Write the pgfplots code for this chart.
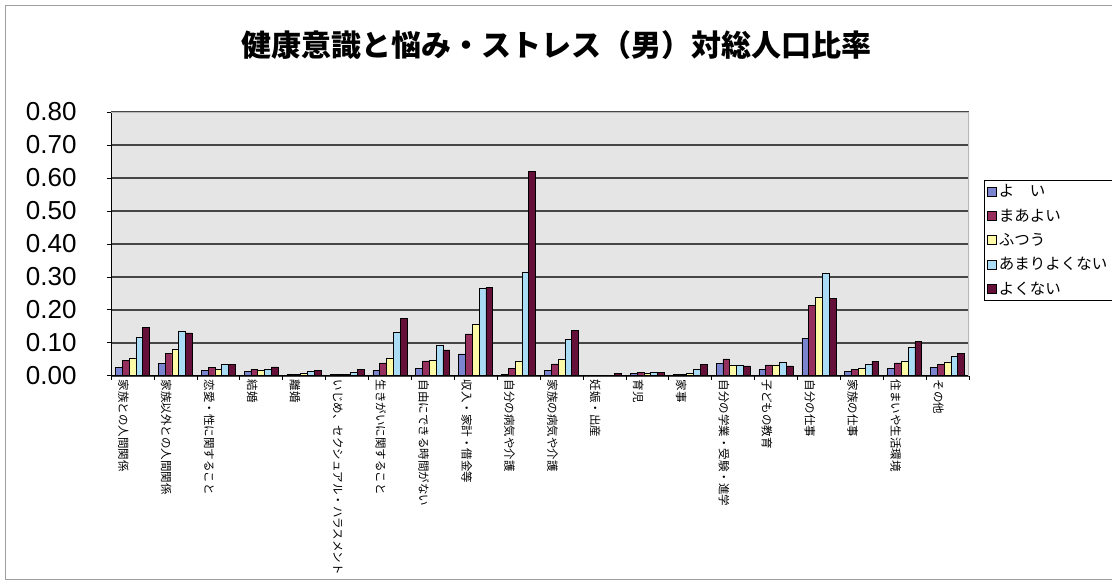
\documentclass[border=0pt]{standalone}
\usepackage{pgfplots}
\pgfplotsset{compat=1.18}
\usepackage{pgfplotstable}
\usepackage{fontspec}
\setmainfont{Liberation Sans}
\newfontfamily\cjk{Noto Sans CJK JP}

\definecolor{cYoi}{RGB}{122,132,207}
\definecolor{cMaa}{RGB}{150,46,94}
\definecolor{cFutsu}{RGB}{255,250,165}
\definecolor{cAmari}{RGB}{170,220,245}
\definecolor{cYokunai}{RGB}{101,16,56}
\definecolor{plotbg}{RGB}{229,229,229}
\definecolor{gridc}{RGB}{70,70,70}

% ratio to total population, by worry (rows) and self-rated health (columns)
\pgfplotstableread{
cat yoi   maa   futsu amari yokunai
1   0.024 0.047 0.054 0.115 0.146
2   0.037 0.068 0.080 0.136 0.130
3   0.016 0.026 0.018 0.034 0.034
4   0.012 0.020 0.015 0.019 0.027
5   0.004 0.005 0.006 0.012 0.017
6   0.004 0.004 0.005 0.009 0.019
7   0.017 0.039 0.052 0.131 0.174
8   0.022 0.045 0.048 0.091 0.078
9   0.066 0.127 0.156 0.264 0.268
10  0.005 0.023 0.045 0.315 0.620
11  0.017 0.036 0.050 0.111 0.137
12  0.000 0.000 0.000 0.000 0.006
13  0.006 0.010 0.008 0.011 0.011
14  0.004 0.005 0.007 0.020 0.035
15  0.037 0.051 0.031 0.033 0.030
16  0.019 0.033 0.033 0.042 0.030
17  0.113 0.213 0.237 0.310 0.234
18  0.012 0.018 0.022 0.035 0.044
19  0.021 0.039 0.044 0.085 0.103
20  0.024 0.034 0.042 0.059 0.068
}\worries

\begin{document}
\begin{tikzpicture}
\clip (0bp,0bp) rectangle (1112bp,583bp);
\fill[white] (0bp,0bp) rectangle (1112bp,583bp);
\draw[gray!75, line width=1bp] (5bp,3bp) rectangle (1130bp,577bp);
\node[font=\cjk\bfseries\fontsize{30bp}{32bp}\selectfont] at (556bp,538bp)
  {健康意識と悩み・ストレス（男）対総人口比率};
\begin{axis}[
  at={(111bp,207.3bp)}, anchor=south west,
  scale only axis, width=858bp, height=263.7bp,
  ybar=0pt, bar width=6.8bp,
  xmin=0.5, xmax=20.5, ymin=0, ymax=0.8,
  axis background/.style={fill=plotbg},
  axis x line*=bottom, axis y line*=left,
  axis line style={-, black, line width=0.8bp},
  tick align=outside,
  xtick={1,...,20},
  xtick style={draw=none},
  xticklabels={家族との人間関係,家族以外との人間関係,恋愛・性に関すること,結婚,離婚,
    いじめ、セクシュアル・ハラスメント,生きがいに関すること,自由にできる時間がない,
    収入・家計・借金等,自分の病気や介護,家族の病気や介護,妊娠・出産,育児,家事,
    自分の学業・受験・進学,子どもの教育,自分の仕事,家族の仕事,住まいや生活環境,その他},
  xticklabel style={rotate=-90, anchor=west, inner sep=0bp, yshift=-9bp,
    font=\cjk\fontsize{11.5bp}{12bp}\selectfont},
  extra x ticks={0.5,1.5,...,20.5},
  extra x tick labels={},
  extra x tick style={xtick style={draw=black, line width=0.6bp}, major tick length=4bp},
  ytick={0,0.1,0.2,0.3,0.4,0.5,0.6,0.7,0.8},
  ymajorgrids,
  major grid style={draw=gridc, line width=1.6bp},
  ytick style={draw=black, line width=0.6bp}, major tick length=4bp,
  yticklabel style={font=\fontsize{26bp}{26bp}\selectfont, anchor=east, xshift=-27bp},
  /pgf/number format/.cd, fixed, fixed zerofill, precision=2, assume math mode=true,
  /pgfplots/.cd,
  every axis plot/.append style={draw=black, line width=0.6bp},
  legend image code/.code={\draw[#1, line width=0.6bp] (0bp,-4.5bp) rectangle (9bp,4.5bp);},
  legend cell align=left,
  legend style={at={(1.0175,0.742)}, anchor=north west, draw=black, line width=0.6bp,
    fill=white, font=\cjk\fontsize{15.5bp}{17bp}\selectfont,
    inner xsep=3bp, inner ysep=2.5bp, row sep=6.5bp,
    /tikz/every even column/.append style={column sep=1bp}},
]
\addplot[fill=cYoi] table[x=cat, y=yoi] {\worries};
\addplot[fill=cMaa] table[x=cat, y=maa] {\worries};
\addplot[fill=cFutsu] table[x=cat, y=futsu] {\worries};
\addplot[fill=cAmari] table[x=cat, y=amari] {\worries};
\addplot[fill=cYokunai] table[x=cat, y=yokunai] {\worries};
\legend{よ　い,まあよい,ふつう,あまりよくない,よくない}
% light plot-area border along the top and right
\draw[gray!55, line width=1.6bp] (rel axis cs:0,1) -- (rel axis cs:1,1) -- (rel axis cs:1,0);
\end{axis}
\end{tikzpicture}
\end{document}
